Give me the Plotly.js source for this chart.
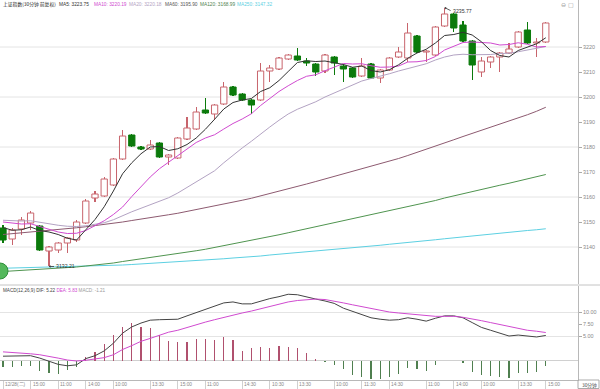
<!DOCTYPE html>
<html><head><meta charset="utf-8">
<script src="https://cdn.plot.ly/plotly-3.0.1.min.js"></script>
<style>html,body{margin:0;padding:0;background:#fff}#chart{width:600px;height:389px}</style>
</head><body><div id="chart"></div>
<script>
// ---- data ----
const opens = [3147.6,3143.2,3147.2,3149.6,3148.4,3138.4,3138.8,3141.6,3142.8,3149.6,
3159.6,3160.4,3164.8,3175.2,3184.8,3180.0,3179.2,3181.6,3176.0,3175.6,
3183.2,3187.2,3194.8,3193.2,3197.2,3204.0,3201.2,3198.8,3198.8,3210.4,
3211.2,3215.2,3216.4,3214.4,3213.2,3210.4,3216.0,3212.4,3211.6,3208.4,
3213.2,3207.6,3210.8,3216.0,3215.6,3224.4,3218.0,3216.8,3228.4,3233.2,
3228.8,3222.4,3210.0,3214.0,3216.0,3217.6,3220.0,3226.8,3221.6,3222.0];
const highs = [3149.0,3147.6,3152.0,3154.4,3148.8,3140.4,3142.0,3144.0,3150.8,3159.2,
3162.4,3168.0,3175.6,3186.8,3185.2,3180.4,3182.8,3182.0,3177.2,3184.0,
3192.0,3196.0,3199.6,3197.2,3206.0,3204.4,3201.6,3199.2,3213.6,3212.8,
3216.0,3217.2,3219.6,3215.6,3213.6,3217.2,3216.4,3213.2,3212.0,3215.6,
3213.6,3211.2,3216.0,3220.0,3229.6,3224.8,3218.8,3228.4,3235.77,3233.6,
3230.4,3222.8,3216.0,3216.4,3218.0,3221.6,3226.4,3230.0,3223.6,3230.0];
const lows = [3141.6,3140.8,3144.8,3146.8,3138.4,3132.21,3137.6,3137.6,3142.0,3149.2,
3158.0,3160.0,3164.4,3174.8,3180.0,3178.8,3178.8,3175.6,3172.8,3175.2,
3182.8,3186.8,3193.2,3190.8,3196.8,3200.4,3198.4,3193.2,3198.4,3206.0,
3210.8,3214.8,3214.4,3212.4,3208.4,3209.6,3208.8,3206.0,3207.6,3208.0,
3207.2,3205.6,3210.4,3215.6,3214.0,3217.6,3214.0,3216.4,3228.0,3226.0,
3222.0,3206.8,3208.0,3211.6,3210.0,3217.2,3219.6,3221.2,3216.0,3221.6];
const closes = [3142.8,3146.8,3150.8,3153.6,3138.8,3140.0,3141.6,3143.6,3150.0,3158.4,
3161.2,3167.2,3175.2,3184.4,3180.4,3179.2,3180.8,3176.0,3176.8,3183.6,
3187.6,3194.0,3193.6,3196.8,3204.0,3200.8,3198.8,3196.8,3210.4,3211.6,
3215.6,3216.8,3214.8,3213.6,3210.0,3216.8,3213.6,3211.2,3208.0,3212.4,
3207.6,3210.8,3215.6,3218.0,3225.6,3218.0,3218.4,3228.0,3233.2,3227.6,
3222.4,3212.8,3214.4,3216.0,3217.6,3219.2,3226.0,3221.6,3222.0,3229.6];

const ma5 = [3147.8,3146.7,3146.9,3148.0,3146.6,3146.0,3145.0,3143.5,3142.8,3146.7,
3151.0,3156.1,3162.4,3169.3,3173.7,3177.3,3180.0,3180.2,3178.6,3179.3,
3181.0,3183.6,3187.1,3191.1,3195.2,3197.8,3198.8,3199.4,3202.2,3203.7,
3206.6,3210.2,3213.8,3214.5,3214.2,3214.4,3213.8,3213.0,3211.9,3212.4,
3210.6,3210.0,3210.9,3212.9,3215.5,3217.6,3219.1,3221.6,3224.6,3225.0,
3225.9,3224.8,3222.1,3218.6,3216.6,3216.0,3218.6,3220.1,3221.3,3223.7];
const ma10 = [3150.0,3149.6,3149.2,3149.3,3148.2,3147.0,3146.0,3145.4,3145.5,3146.6,
3148.5,3150.5,3153.0,3156.0,3160.2,3164.1,3168.0,3171.3,3174.0,3176.5,
3179.1,3181.8,3183.6,3184.9,3187.2,3189.4,3191.2,3193.3,3196.6,3199.4,
3202.2,3204.5,3206.6,3208.3,3208.9,3210.5,3212.0,3213.4,3213.2,3213.3,
3212.5,3211.9,3212.0,3212.4,3214.0,3214.1,3214.6,3216.2,3218.8,3220.3,
3221.8,3222.0,3221.8,3221.6,3220.8,3221.0,3221.7,3221.1,3220.0,3220.2];
const ma20 = [3150.7,3150.5,3150.4,3150.5,3149.8,3149.2,3148.7,3148.3,3148.2,3148.5,
3149.0,3149.7,3150.9,3152.6,3154.1,3155.5,3156.9,3158.2,3159.7,3161.6,
3163.8,3166.2,3168.3,3170.5,3173.7,3176.8,3179.6,3182.3,3185.3,3188.0,
3190.7,3193.2,3195.1,3196.6,3198.1,3200.0,3201.6,3203.4,3204.9,3206.4,
3207.4,3208.2,3209.3,3210.4,3211.4,3212.3,3213.3,3214.8,3216.0,3216.8,
3217.1,3216.9,3216.9,3217.0,3217.4,3217.5,3218.1,3218.7,3219.4,3220.2];
const ma60 = [3145.0,3145.3,3145.6,3146.0,3146.3,3146.6,3147.0,3147.3,3147.7,3148.1,
3148.5,3149.0,3149.5,3150.0,3150.6,3151.1,3151.7,3152.3,3152.9,3153.5,
3154.2,3154.9,3155.6,3156.3,3157.1,3157.9,3158.7,3159.5,3160.4,3161.3,
3162.2,3163.2,3164.2,3165.2,3166.2,3167.2,3168.2,3169.2,3170.2,3171.2,
3172.2,3173.2,3174.3,3175.4,3176.6,3177.8,3179.0,3180.3,3181.6,3182.9,
3184.2,3185.4,3186.6,3187.8,3189.0,3190.3,3191.6,3192.9,3194.3,3195.9];
const ma120 = [3130.2,3130.4,3130.7,3131.0,3131.2,3131.4,3131.6,3131.8,3132.0,3132.4,
3132.7,3133.2,3133.6,3134.2,3134.7,3135.2,3135.7,3136.2,3136.7,3137.3,
3137.8,3138.5,3139.1,3139.8,3140.5,3141.2,3141.8,3142.5,3143.3,3144.0,
3144.9,3145.7,3146.5,3147.3,3148.1,3148.9,3149.7,3150.4,3151.2,3152.0,
3152.7,3153.5,3154.3,3155.2,3156.0,3156.9,3157.7,3158.6,3159.6,3160.5,
3161.4,3162.2,3163.0,3163.8,3164.7,3165.5,3166.4,3167.3,3168.1,3169.0];
const ma250 = [3131.5,3131.6,3131.7,3131.7,3131.8,3131.8,3131.9,3131.9,3132.0,3132.1,
3132.2,3132.4,3132.6,3132.8,3133.0,3133.2,3133.4,3133.6,3133.8,3134.0,
3134.2,3134.5,3134.7,3135.0,3135.3,3135.6,3135.8,3136.1,3136.4,3136.8,
3137.1,3137.4,3137.8,3138.1,3138.4,3138.8,3139.1,3139.4,3139.8,3140.1,
3140.4,3140.7,3141.1,3141.4,3141.8,3142.1,3142.5,3142.9,3143.3,3143.7,
3144.1,3144.4,3144.7,3145.1,3145.4,3145.8,3146.2,3146.6,3146.9,3147.3];

const dif = [0.9,0.9,1.0,1.0,0.5,-0.2,-0.8,-1.1,-0.9,0.4,
1.0,2.0,3.6,5.7,7.0,7.8,8.4,8.5,8.5,8.6,
9.3,10.0,10.6,11.3,12.0,12.2,11.8,11.8,12.4,12.9,
13.3,13.8,13.7,13.2,12.8,12.4,11.9,10.9,10.2,9.6,
8.9,8.6,8.4,8.5,8.9,8.6,8.2,8.8,9.3,9.3,
8.9,7.9,6.9,6.3,5.7,5.1,5.3,5.1,4.9,5.22];
const dea = [1.8,1.7,1.6,1.4,1.2,0.9,0.5,0.1,-0.1,0.05,
0.25,0.6,1.2,2.3,3.1,4.0,4.6,5.2,5.9,6.3,
6.9,7.5,8.0,8.5,9.0,9.5,9.9,10.3,10.8,11.3,
11.7,12.2,12.5,12.7,12.8,12.7,12.4,12.0,11.6,11.2,
10.8,10.4,10.1,9.9,9.7,9.5,9.3,9.2,9.2,9.2,
9.0,8.7,8.3,7.9,7.5,7.0,6.6,6.3,6.1,5.83];
const macdHist = [-1.4,-1.4,-1.1,-1.1,-2.2,-2.6,-2.8,-2.0,-1.4,0.7,
1.8,3.4,5.3,7.0,7.9,7.0,6.8,5.3,4.1,3.9,
3.9,4.5,4.5,4.3,4.9,4.3,2.0,2.7,2.8,2.7,
3.0,2.9,2.6,1.6,0.3,-0.3,-0.9,-1.8,-3.0,-3.4,
-3.9,-3.9,-3.4,-2.8,-1.6,-1.8,-2.2,-0.9,-0.2,-0.2,
-0.5,-2.3,-3.0,-3.3,-3.4,-3.6,-2.5,-2.6,-2.4,-1.21];

const tickIdx  = [0,3,6,9,12,16,19,22,26,29,32,36,39,42,46,49,52,56,59];
const tickText = ['12/28(二)','15:00','11:00','14:00','10:00','13:30','15:00','11:00','14:30','10:30','13:30','10:00','11:30','14:30','11:00','14:00','10:00','13:30','15:00'];
const priceTicks = [3140,3150,3160,3170,3180,3190,3200,3210,3220];
const priceGrid  = [3140,3160,3180,3200,3220];
const macdTicks = [5,7.5,10];
const macdTickText = ['5.00','7.50','10.00'];
const macdGrid = [5,10];
const maNames = ['MA5','MA10','MA20','MA60','MA120','MA250'];
const maLast  = ['3223.75','3220.19','3220.18','3195.90','3168.99','3147.32'];
const macdLegend = {dif:'5.22', dea:'5.83', macd:'-1.21'};

// ---- styles ----
const W = 578, H = 380;
const C = {ma5:'#333333', ma10:'#d04ad0', ma20:'#b3a3c3', ma60:'#8d5a70', ma120:'#4f944f', ma250:'#5cd0e2',
           up:'#c8646c', down:'#0b7a0b', dif:'#444444', dea:'#d04ad0'};
const idx = closes.map((_, i) => i);
const isUp = idx.map(i => closes[i] >= opens[i]);

const line = (y, color, ax) => ({type:'scatter', mode:'lines', x: idx, y, xaxis:'x', yaxis: ax||'y',
  line:{color, width:1}, hoverinfo:'skip'});

const traces = [
  // wicks
  {type:'bar', x: idx, base: lows, y: idx.map(i => highs[i] - lows[i]), width:0.11, xaxis:'x', yaxis:'y',
   marker:{color: idx.map(i => isUp[i] ? C.up : C.down), line:{width:0}}, hoverinfo:'skip'},
  // up bodies (hollow)
  {type:'bar', x: idx, base: idx.map(i => isUp[i] ? opens[i] : null),
   y: idx.map(i => isUp[i] ? Math.max(closes[i] - opens[i], 0.25) : null), width:0.68, xaxis:'x', yaxis:'y',
   marker:{color:'#ffffff', line:{color:C.up, width:1}}, hoverinfo:'skip'},
  // down bodies (filled)
  {type:'bar', x: idx, base: idx.map(i => isUp[i] ? null : closes[i]),
   y: idx.map(i => isUp[i] ? null : Math.max(opens[i] - closes[i], 0.25)), width:0.68, xaxis:'x', yaxis:'y',
   marker:{color:C.down, line:{color:C.down, width:1}}, hoverinfo:'skip'},
  // MACD histogram
  {type:'bar', x: idx, y: macdHist, xaxis:'x', yaxis:'y2', width:0.12,
   marker:{color: macdHist.map(v => v >= 0 ? '#b0506e' : '#4f7f4f'), line:{width:0}}, hoverinfo:'skip'},
  line(ma250, C.ma250), line(ma120, C.ma120), line(ma60, C.ma60),
  line(ma20, C.ma20), line(ma10, C.ma10), line(ma5, C.ma5),
  line(dif, C.dif, 'y2'), line(dea, C.dea, 'y2')
];

const px2py = p => 1 - p / H;   // pixel row -> paper y
const px2px = p => p / W;       // pixel col -> paper x

const shapes = [];
priceGrid.forEach(v => shapes.push({type:'line', xref:'paper', x0:0, x1:1, yref:'y', y0:v, y1:v,
  line:{color:'#e4e4e4', width:1}, layer:'below'}));
macdGrid.forEach(v => shapes.push({type:'line', xref:'paper', x0:0, x1:1, yref:'y2', y0:v, y1:v,
  line:{color:'#e4e4e4', width:1}, layer:'below'}));
shapes.push({type:'line', xref:'paper', x0:0, x1:1, yref:'y2', y0:0, y1:0, line:{color:'#d0d0d0', width:1}, layer:'below'});
shapes.push({type:'line', xref:'paper', x0:0, x1:600/W, yref:'paper', y0:px2py(285), y1:px2py(285), line:{color:'#c4c4c4', width:1}});
shapes.push({type:'rect', xref:'paper', x0:1, x1:599/W, yref:'paper', y0:px2py(380), y1:px2py(388.5), line:{color:'#aaaaaa', width:1}, fillcolor:'rgba(0,0,0,0)'});
shapes.push({type:'circle', xref:'paper', x0:px2px(-8), x1:px2px(8), yref:'paper', y0:px2py(279), y1:px2py(263),
  line:{color:'#2f8f3a', width:1}, fillcolor:'#54b85c'});

const annotations = [];
// title / MA legend
annotations.push({xref:'paper', yref:'paper', x:px2px(0.5), y:px2py(4.5), xanchor:'left', yanchor:'middle', showarrow:false,
  text:'上证指数(30分钟 前复权)', font:{family:'Noto Sans CJK SC', size:4.8, color:'#222'}});
const maX = [57, 92, 127, 163, 198, 235];
const maColors = [C.ma5, C.ma10, C.ma20, '#555555', '#4f7f4f', C.ma250];
maNames.forEach((n, k) => annotations.push({xref:'paper', yref:'paper', x:px2px(maX[k]), y:px2py(4.5), xanchor:'left', yanchor:'middle',
  showarrow:false, text: n + ': ' + maLast[k], font:{family:'Liberation Sans', size:4.8, color: maColors[k]}}));
// MACD legend
annotations.push({xref:'paper', yref:'paper', x:px2px(0.5), y:px2py(290), xanchor:'left', yanchor:'middle', showarrow:false,
  text:'<span style="color:#444">MACD(12,26,9) DIF: ' + macdLegend.dif + '</span> <span style="color:' + C.dea + '">DEA: ' + macdLegend.dea +
       '</span> <span style="color:#999">MACD: ' + macdLegend.macd + '</span>',
  font:{family:'Liberation Sans', size:4.6, color:'#444'}});
// time labels (left aligned after tick)
tickIdx.forEach((ti, k) => annotations.push({xref:'x', yref:'paper', x: ti, y: px2py(384.5), xanchor:'left', yanchor:'middle', xshift:0,
  showarrow:false, text: tickText[k], font:{family:'Liberation Sans', size:4.8, color:'#888'}}));
annotations.push({xref:'paper', yref:'paper', x:px2px(589), y:px2py(384.5), xanchor:'center', yanchor:'middle', showarrow:false,
  text:'30分钟', font:{family:'Noto Sans CJK SC', size:4.8, color:'#444'}});
annotations.push({xref:'paper', yref:'paper', x:px2px(576), y:px2py(4), xanchor:'right', yanchor:'middle', showarrow:false,
  text:'⊖ ▢', font:{family:'DejaVu Sans', size:6, color:'#999'}});
// extreme labels
const hiVal = Math.max(...highs), hiIdx = highs.indexOf(hiVal);
const loVal = Math.min(...lows), loIdx = lows.indexOf(loVal);
annotations.push({x: hiIdx, y: hiVal, xref:'x', yref:'y', text: hiVal.toFixed(2), showarrow:true, arrowhead:1, arrowsize:0.6,
  arrowwidth:0.8, arrowcolor:'#333', ax:6, ay:3, xanchor:'left', standoff:0, font:{family:'Liberation Sans', size:5.2, color:'#333'}});
annotations.push({x: loIdx, y: loVal, xref:'x', yref:'y', text: loVal.toFixed(2), showarrow:true, arrowhead:1, arrowsize:0.6,
  arrowwidth:0.8, arrowcolor:'#333', ax:5, ay:0, xanchor:'left', standoff:0, font:{family:'Liberation Sans', size:5.2, color:'#333'}});

const layout = {
  width:600, height:389, margin:{l:0, r:22, t:0, b:9}, paper_bgcolor:'#ffffff', plot_bgcolor:'#ffffff',
  showlegend:false, dragmode:false, hovermode:false, barmode:'overlay', bargap:0,
  xaxis:{anchor:'y2', range:[-0.326, 62.5], tickvals: tickIdx, ticks:'outside', ticklen:9, tickcolor:'#d0d0d0', tickwidth:1,
    showticklabels:false, showline:true, linecolor:'#b8b8b8', linewidth:1, showgrid:false, zeroline:false, fixedrange:true},
  yaxis:{domain:[px2py(284), 1], range:[3125.2, 3238.8], side:'right', anchor:'x', tickvals: priceTicks,
    ticks:'outside', ticklen:3, tickcolor:'#aaaaaa', tickfont:{family:'Liberation Sans', size:5.4, color:'#888'},
    showgrid:false, zeroline:false, showline:true, linecolor:'#b8b8b8', linewidth:1, fixedrange:true},
  yaxis2:{domain:[0, px2py(286)], range:[-4.06, 15.52], side:'right', anchor:'x', tickvals: macdTicks, ticktext: macdTickText,
    ticks:'outside', ticklen:3, tickcolor:'#aaaaaa', tickfont:{family:'Liberation Sans', size:5.4, color:'#888'},
    showgrid:false, zeroline:false, showline:true, linecolor:'#b8b8b8', linewidth:1, fixedrange:true},
  shapes, annotations
};

Plotly.newPlot('chart', traces, layout, {staticPlot:true, displayModeBar:false});
</script></body></html>
